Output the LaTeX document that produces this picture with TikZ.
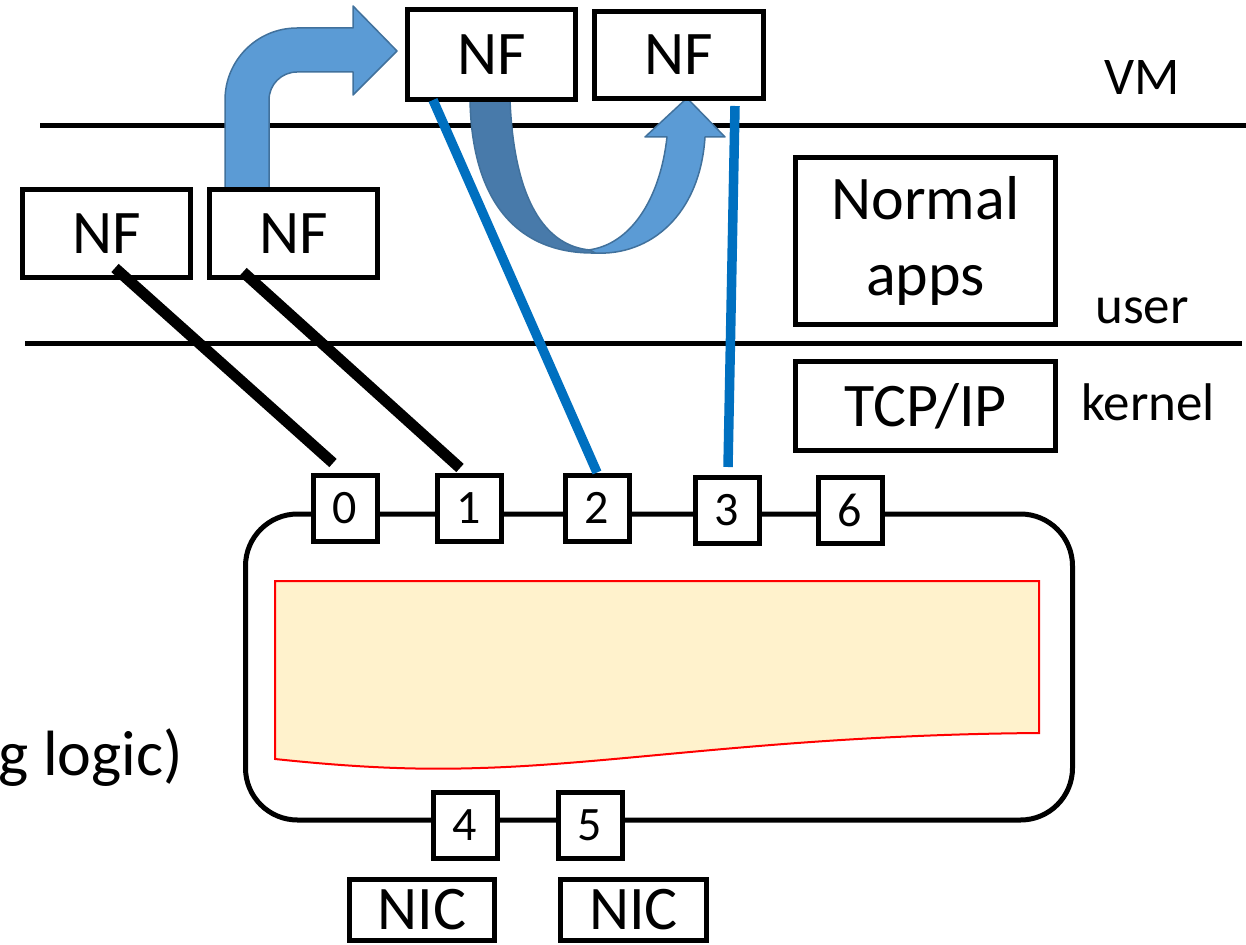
\documentclass[tikz,border=0pt]{standalone}
\usepackage{fontspec}
\setmainfont{Carlito}
\usetikzlibrary{calc}
\newcommand\fbig{\fontsize{62}{76}\selectfont}
\newcommand\flab{\fontsize{53}{64}\selectfont}
\newcommand\fdig{\fontsize{48}{56}\selectfont}
\definecolor{arrowfill}{HTML}{5B9BD5}
\definecolor{arrowdark}{HTML}{487AAA}
\definecolor{arrowedge}{HTML}{41719C}
\definecolor{linkblue}{HTML}{0070C0}
\definecolor{tablefill}{HTML}{FFF2CC}
\tikzset{
  box/.style={draw, line width=5, fill=white, inner sep=0, font=\fbig, align=center},
  port/.style={draw, line width=5, fill=white, minimum width=64, minimum height=66, inner sep=0, font=\fdig},
  layer/.style={line width=5},
  lbl/.style={font=\flab, inner sep=0},
  blacklink/.style={line width=11, line cap=butt},
  bluelink/.style={line width=9.5, draw=linkblue, line cap=butt},
  fatarrow/.style={fill=arrowfill, draw=arrowedge, line width=1.5, line join=round},
  fatarrowdark/.style={fill=arrowdark, draw=arrowedge, line width=1.5, line join=round},
}
\begin{document}
\begin{tikzpicture}[x=1pt, y=-1pt]
\useasboundingbox (0,0) rectangle (1246,944);

% layer separators
\draw[layer] (40,126) -- (1246,126);
\draw[layer] (25,343) -- (1242,343);

% layer labels
\node[lbl, anchor=base] (vm) at (1142,95) {VM};
\node[lbl, anchor=base] (user) at (1142,323) {user};
\node[lbl, anchor=base] (kern) at (1148,420) {kernel};

% switch body
\draw[line width=5, rounded corners=52] (245.5,514) rectangle (1072.5,820);
% rule table
\draw[fill=tablefill, draw=red, line width=2]
  (275,581) -- (1039,581) -- (1039,733)
  .. controls (780,735) and (620,764) .. (480,768)
  .. controls (420,770) and (360,768) .. (275,759) -- cycle;

% partial label
\node[font=\fontsize{64}{76}\selectfont, anchor=base east, inner sep=0] (logic) at (183,775) {g logic)};

% bent arrow from the lower NF up to the VM NF
\draw[fatarrow]
  (225,190) -- (225,100)
  .. controls (225,60.2) and (257.2,28) .. (297,28)
  -- (353,28) -- (353,6) -- (397,51) -- (353,95) -- (353,72) -- (297,72)
  .. controls (281.5,72) and (269,84.5) .. (269,100)
  -- (269,190) -- cycle;

% U-turn arrow between the two VM NFs
\draw[fatarrow]
  (588,250) .. controls (630,245) and (660,200) .. (667,137)
  -- (645,137) -- (687,98) -- (725,137) -- (705,137)
  .. controls (700,215) and (650,256) .. (595,253) -- cycle;
\draw[fatarrowdark]
  (470,100) -- (510,100)
  .. controls (514,200) and (545,246) .. (590,250)
  -- (595,253)
  .. controls (520,254) and (472,205) .. (470,100) -- cycle;

% NF boxes
\node[box, minimum width=168, minimum height=88] (nfL) at (106.5,233.5) {NF};
\node[box, minimum width=168, minimum height=88] (nfR) at (293.5,233.5) {NF};
\node[box, minimum width=168, minimum height=90] (nfA) at (491.5,54.5) {NF};
\node[box, minimum width=169, minimum height=87] (nfB) at (679,55) {NF};

% host stack boxes
\node[box, minimum width=260, minimum height=167] (apps) at (925.5,241) {Normal\\apps};
\node[box, minimum width=260, minimum height=89] (tcp) at (925.5,406) {TCP/IP};

% ports on the switch
\node[port] (p0) at (345,508) {0};
\node[port] (p1) at (469,508) {1};
\node[port] (p2) at (597,508) {2};
\node[port] (p3) at (727,510) {3};
\node[port] (p6) at (850,510) {6};
\node[port] (p4) at (465,825) {4};
\node[port] (p5) at (590,825) {5};

% NICs
\node[box, minimum width=145, minimum height=61] (nic1) at (422,910) {NIC};
\node[box, minimum width=146, minimum height=61] (nic2) at (633.5,910) {NIC};

% links from NFs to ports
\coordinate (l0s) at (115,268);
\coordinate (l0e) at (333,463);
\coordinate (l1s) at (243,272);
\coordinate (l1e) at (460,468);
\coordinate (l2s) at (433,100);
\coordinate (l3s) at (735,106);
\coordinate (l3e) at (728,467);
\draw[blacklink] (l0s) -- (l0e);
\draw[blacklink] (l1s) -- (l1e);
\draw[bluelink] (l2s) -- (p2.north);
\draw[bluelink] (l3s) -- (l3e);
\end{tikzpicture}
\end{document}
